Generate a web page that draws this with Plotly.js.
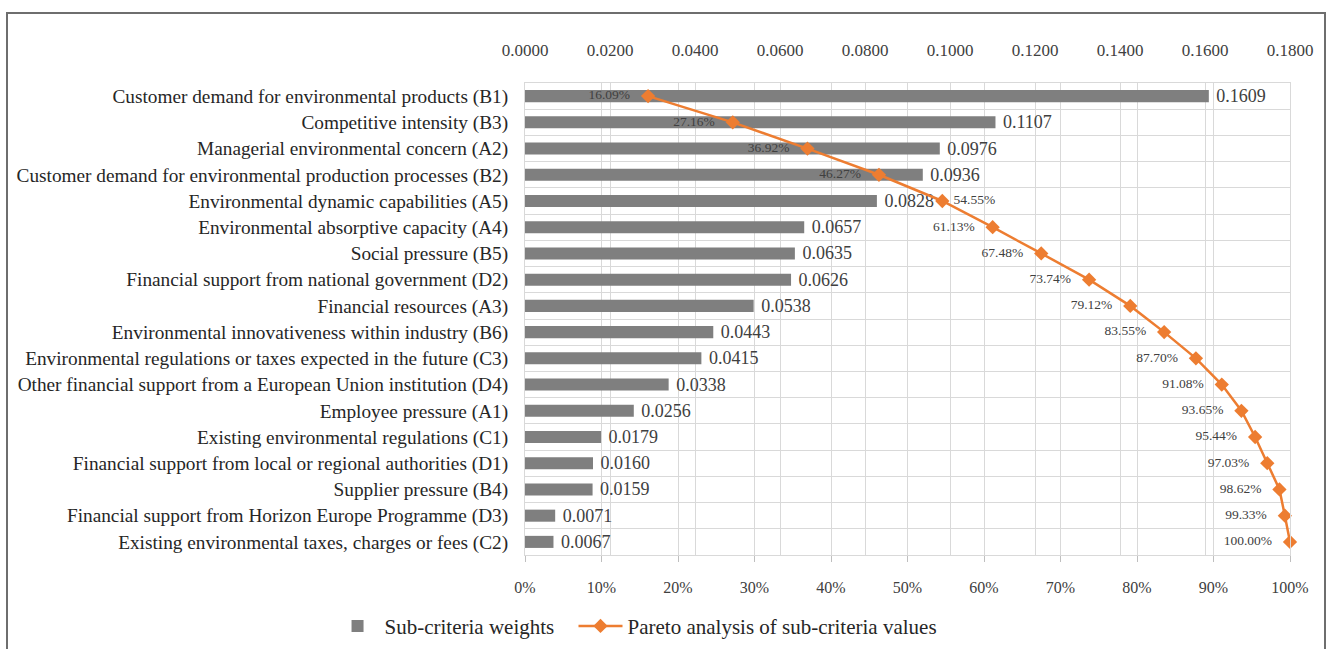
<!DOCTYPE html>
<html>
<head>
<meta charset="utf-8">
<script src="https://cdn.plot.ly/plotly-3.0.1.min.js"></script>
<style>
html,body{margin:0;padding:0;background:#fff;}
#chart{width:1326px;height:649px;position:absolute;left:0;top:0;}
#frame{position:absolute;left:6px;top:12px;width:1316px;height:660px;border:2px solid #6e6e6e;pointer-events:none;}
</style>
</head>
<body>
<div id="chart"></div>
<div id="frame"></div>
<script>
const categories = [
  "Customer demand for environmental products (B1)",
  "Competitive intensity (B3)",
  "Managerial environmental concern (A2)",
  "Customer demand for environmental production processes (B2)",
  "Environmental dynamic capabilities (A5)",
  "Environmental absorptive capacity (A4)",
  "Social pressure (B5)",
  "Financial support from national government (D2)",
  "Financial resources (A3)",
  "Environmental innovativeness within industry (B6)",
  "Environmental regulations or taxes expected in the future (C3)",
  "Other financial support from a European Union institution (D4)",
  "Employee pressure (A1)",
  "Existing environmental regulations (C1)",
  "Financial support from local or regional authorities (D1)",
  "Supplier pressure (B4)",
  "Financial support from Horizon Europe Programme (D3)",
  "Existing environmental taxes, charges or fees (C2)"
];
const weights = [0.1609, 0.1107, 0.0976, 0.0936, 0.0828, 0.0657, 0.0635, 0.0626, 0.0538, 0.0443, 0.0415, 0.0338, 0.0256, 0.0179, 0.0160, 0.0159, 0.0071, 0.0067];
const cumulative = [0.1609, 0.2716, 0.3692, 0.4627, 0.5455, 0.6113, 0.6748, 0.7374, 0.7912, 0.8355, 0.8770, 0.9108, 0.9365, 0.9544, 0.9703, 0.9862, 0.9933, 1.0000];
const weightTicks = [0, 0.02, 0.04, 0.06, 0.08, 0.10, 0.12, 0.14, 0.16, 0.18];
const pctTicks = [0, 0.1, 0.2, 0.3, 0.4, 0.5, 0.6, 0.7, 0.8, 0.9, 1.0];

const serif = "Liberation Serif, DejaVu Serif, serif";
const grid = "#d9d9d9";
const NB = "\u00a0";

const labelPos = cumulative.map((v, i) => i === 4 ? "middle right" : "middle left");
const labelText = cumulative.map((v, i) => {
  const s = (v * 100).toFixed(2) + "%";
  return i === 4 ? NB + s : s + NB + NB + NB;
});

const barTrace = {
  type: "bar",
  orientation: "h",
  name: "Sub-criteria weights",
  legend: "legend",
  y: categories,
  x: weights,
  xaxis: "x",
  yaxis: "y",
  marker: {color: "#7f7f7f"},
  width: 0.46,
  text: weights.map(v => NB + v.toFixed(4)),
  textposition: "outside",
  constraintext: "none",
  textfont: {family: serif, size: 18, color: "#404040"},
  cliponaxis: false,
  hoverinfo: "x+y"
};

const lineTrace = {
  type: "scatter",
  mode: "lines+markers+text",
  name: "Pareto analysis of sub-criteria values",
  legend: "legend2",
  y: categories,
  x: cumulative,
  xaxis: "x2",
  yaxis: "y",
  line: {color: "#ED7D31", width: 2.5},
  marker: {symbol: "diamond", size: 11, color: "#ED7D31"},
  text: labelText,
  textposition: labelPos,
  textfont: {family: serif, size: 13.5, color: "#404040"},
  cliponaxis: false
};

const legendFont = {family: serif, size: 21, color: "#262626"};

const layout = {
  width: 1326,
  height: 649,
  margin: {l: 525, r: 36, t: 83, b: 94, autoexpand: false},
  paper_bgcolor: "#ffffff",
  plot_bgcolor: "#ffffff",
  showlegend: true,
  legend: {
    orientation: "h",
    x: -0.2542, xanchor: "left",
    y: -0.151, yanchor: "middle",
    font: legendFont,
    itemwidth: 44
  },
  legend2: {
    orientation: "h",
    x: 0.0634, xanchor: "left",
    y: -0.151, yanchor: "middle",
    font: legendFont,
    itemwidth: 44
  },
  xaxis: {
    side: "top",
    range: [0, 0.18],
    automargin: false,
    tickvals: weightTicks,
    ticktext: weightTicks.map(v => v.toFixed(4)),
    tickfont: {family: serif, size: 17, color: "#404040"},
    showgrid: true,
    gridcolor: grid,
    zeroline: false,
    showline: true,
    linecolor: grid,
    ticks: "",
    ticklabelstandoff: 19,
    fixedrange: true
  },
  xaxis2: {
    overlaying: "x",
    side: "bottom",
    range: [0, 1],
    automargin: false,
    tickvals: pctTicks,
    ticktext: pctTicks.map(v => Math.round(v * 100) + "%"),
    tickfont: {family: serif, size: 16, color: "#404040"},
    showgrid: true,
    gridcolor: grid,
    zeroline: false,
    showline: true,
    linecolor: grid,
    ticks: "outside",
    ticklen: 6,
    tickcolor: "#bfbfbf",
    ticklabelstandoff: 12,
    fixedrange: true
  },
  yaxis: {
    type: "category",
    range: [17.5, -0.5],
    automargin: false,
    tickson: "boundaries",
    showgrid: true,
    gridcolor: grid,
    showline: true,
    linecolor: grid,
    mirror: true,
    ticks: "",
    tickfont: {family: serif, size: 19.3, color: "#262626"},
    ticklabelstandoff: 12,
    fixedrange: true
  }
};

Plotly.newPlot("chart", [barTrace, lineTrace], layout, {displayModeBar: false, staticPlot: true});
</script>
</body>
</html>
